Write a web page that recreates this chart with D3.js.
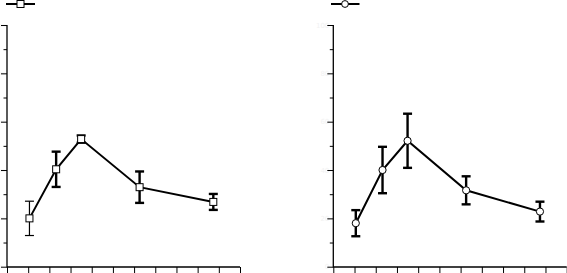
<!DOCTYPE html>
<html>
<head>
<meta charset="utf-8">
<script src="https://cdn.jsdelivr.net/npm/d3@7"></script>
<style>
  body { margin: 0; background: #fff; }
  svg { display: block; }
</style>
</head>
<body>
<svg id="chart"></svg>
<script>
const w = 567;
const h = 273;

// x positions shared by both panels
const xValues = [5.3, 11.6, 17.5, 31.3, 48.7];

// left panel (squares)
const meanA = [20.0, 40.3, 52.8, 32.9, 26.8];
const errA = [7.1, 7.3, 1.5, 6.5, 3.3];

// right panel (circles)
const meanB = [18.0, 40.0, 52.1, 31.6, 22.8];
const errB = [5.4, 9.6, 11.2, 5.8, 4.1];

const xTicks = [0, 5, 10, 15, 20, 25, 30, 35, 40, 45, 50, 55];
const yTicks = [0, 10, 20, 30, 40, 50, 60, 70, 80, 90, 100];

const svg = d3.select("#chart").attr("width", w).attr("height", h);

function drawPanel(left, right, means, errs, marker) {
  const x = d3.scaleLinear().domain([0, 55]).range([left, right]);
  const y = d3.scaleLinear().domain([0, 100]).range([266.7, 25]);
  const g = svg.append("g");

  // axes (labels are only faint ghosts in the original)
  const yAxis = d3.axisLeft(y).tickValues(yTicks)
    .tickSize(0).tickFormat(d => (d % 20 === 0 ? d : ""));
  const ya = g.append("g").attr("transform", `translate(${left},0)`).call(yAxis);
  ya.select(".domain").remove();
  ya.selectAll("text").attr("fill", "#f2f2f2")
    .attr("font-family", "DejaVu Sans");
  if (left < 20) {
    ya.selectAll("text").attr("font-size", 4).attr("text-anchor", "start").attr("x", -left);
  } else {
    ya.selectAll("text").attr("font-size", 7).attr("x", -4);
  }
  ya.selectAll(".tick").append("line")
    .attr("x1", d => (d % 20 === 0 ? -6 : -3.5)).attr("x2", 0)
    .attr("stroke", "#000").attr("stroke-width", 1);

  const xAxis = d3.axisBottom(x).tickValues(xTicks).tickSize(6).tickFormat("");
  const xa = g.append("g").attr("transform", "translate(0,267)").call(xAxis);
  xa.select(".domain").remove();
  xa.selectAll("line").attr("stroke", "#000");

  g.append("line").attr("x1", left).attr("x2", left)
    .attr("y1", y(100)).attr("y2", 267.5)
    .attr("stroke", "#000").attr("stroke-width", 1.3);
  g.append("line").attr("x1", left).attr("x2", x(55))
    .attr("y1", 267).attr("y2", 267)
    .attr("stroke", "#000").attr("stroke-width", 1.3);

  const pts = xValues.map((v, i) => ({ x: v, m: means[i], e: errs[i], i: i }));

  // error bars
  const eb = g.selectAll(".err").data(pts).enter().append("g");
  eb.each(function (d) {
    const s = d3.select(this);
    const sw = marker === "square" && d.i === 0 ? 1.2 : 2.4;
    const cx = x(d.x);
    s.append("line").attr("x1", cx).attr("x2", cx)
      .attr("y1", y(d.m + d.e)).attr("y2", y(d.m - d.e))
      .attr("stroke", "#000").attr("stroke-width", sw);
    [d.m + d.e, d.m - d.e].forEach(v => {
      s.append("line").attr("x1", cx - 4.5).attr("x2", cx + 4.5)
        .attr("y1", y(v)).attr("y2", y(v))
        .attr("stroke", "#000").attr("stroke-width", sw);
    });
  });

  // line
  const line = d3.line().x(d => x(d.x)).y(d => y(d.m));
  g.append("path").datum(pts).attr("d", line)
    .attr("fill", "none").attr("stroke", "#000").attr("stroke-width", 2);

  // markers
  if (marker === "square") {
    g.selectAll(".mk").data(pts).enter().append("rect")
      .attr("x", d => x(d.x) - 3.5).attr("y", d => y(d.m) - 3.5)
      .attr("width", 7).attr("height", 7)
      .attr("fill", "#fff").attr("stroke", "#000").attr("stroke-width", 1);
  } else {
    g.selectAll(".mk").data(pts).enter().append("circle")
      .attr("cx", d => x(d.x)).attr("cy", d => y(d.m)).attr("r", 3.6)
      .attr("fill", "#fff").attr("stroke", "#000").attr("stroke-width", 1);
  }
}

drawPanel(7, 240, meanA, errA, "square");
drawPanel(333.3, 566.7, meanB, errB, "circle");

// legend keys
const legA = svg.append("g");
legA.append("line").attr("x1", 6).attr("x2", 35).attr("y1", 4).attr("y2", 4)
  .attr("stroke", "#000").attr("stroke-width", 2);
legA.append("rect").attr("x", 17).attr("y", 0.5).attr("width", 7).attr("height", 7)
  .attr("fill", "#fff").attr("stroke", "#000").attr("stroke-width", 1);

const legB = svg.append("g");
legB.append("line").attr("x1", 331).attr("x2", 359.5).attr("y1", 4).attr("y2", 4)
  .attr("stroke", "#000").attr("stroke-width", 2);
legB.append("circle").attr("cx", 345).attr("cy", 4).attr("r", 3.4)
  .attr("fill", "#fff").attr("stroke", "#000").attr("stroke-width", 1);
</script>
</body>
</html>
